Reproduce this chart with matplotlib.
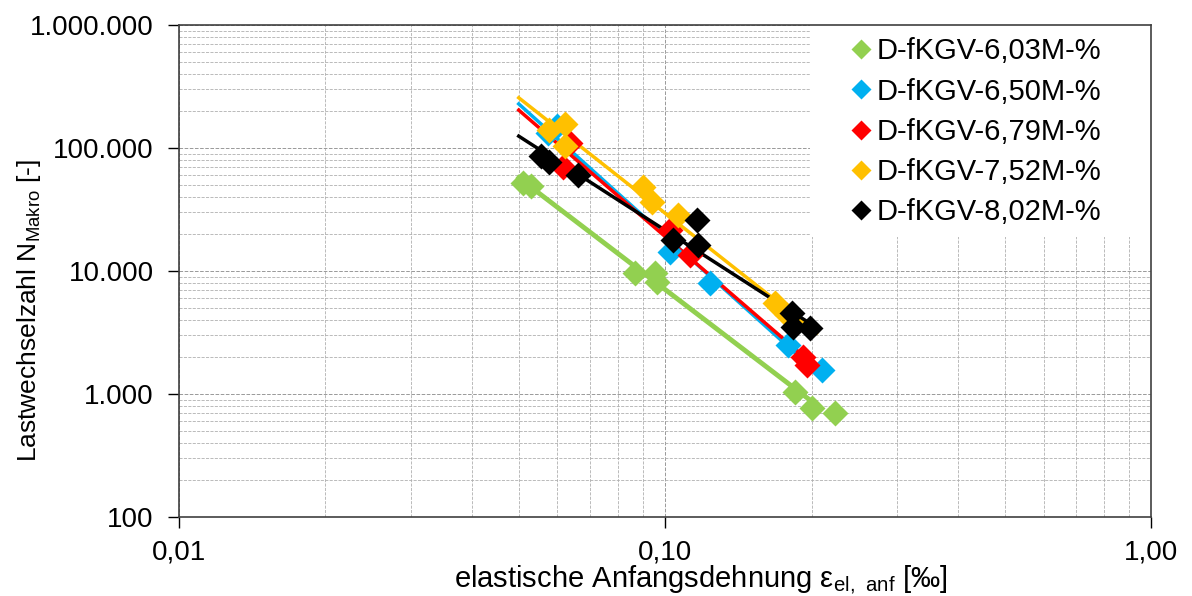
import numpy as np
import matplotlib.pyplot as plt
from matplotlib.patches import Rectangle
from matplotlib.ticker import FuncFormatter, LogLocator, NullFormatter

plt.rcParams['font.family'] = ['Liberation Sans', 'DejaVu Sans']
plt.rcParams['mathtext.fontset'] = 'custom'
plt.rcParams['mathtext.rm'] = 'Liberation Sans'

# Daten
labels = ['D-fKGV-6,03M-%', 'D-fKGV-6,50M-%', 'D-fKGV-6,79M-%',
          'D-fKGV-7,52M-%', 'D-fKGV-8,02M-%']
colors = ['#92D050', '#00B0F0', '#FF0000', '#FFC000', '#000000']

eps_603 = [0.0510, 0.0530, 0.0868, 0.0954, 0.0963, 0.185, 0.2007, 0.2238]
n_603 = [51900, 49100, 9630, 9630, 8140, 1040, 770, 700]

eps_650 = [0.0574, 0.0599, 0.1024, 0.1238, 0.179, 0.2104]
n_650 = [132400, 151000, 14270, 7990, 2500, 1570]

eps_679 = [0.0637, 0.0617, 0.1024, 0.1126, 0.1923, 0.196]
n_679 = [109800, 70050, 21540, 13490, 2000, 1720]

eps_752 = [0.0577, 0.0623, 0.0623, 0.0901, 0.0940, 0.1063, 0.1684, 0.1782]
n_752 = [140100, 156700, 103800, 48180, 36390, 28520, 5490, 4390]

eps_802 = [0.0556, 0.0577, 0.0662, 0.1164, 0.1039, 0.117, 0.1825, 0.1829, 0.1988]
n_802 = [86100, 76930, 60330, 25980, 17870, 16270, 4555, 3505, 3440]

series = [(eps_603, n_603), (eps_650, n_650), (eps_679, n_679),
          (eps_752, n_752), (eps_802, n_802)]
line_widths = [3.5, 2.5, 2.5, 2.5, 2.5]

fig = plt.figure(figsize=(11.92, 5.96), dpi=100)
ax = fig.add_axes([0.150, 0.1326, 0.816, 0.8254])
ax.set_xscale('log')
ax.set_yscale('log')
ax.set_xlim(0.01, 1.0)
ax.set_ylim(100, 1000000)

# Potenz-Trendlinien
x_fit = np.array([0.05, 0.205])
for (x, y), c, lw in zip(series, colors, line_widths):
    k, d = np.polyfit(np.log10(x), np.log10(y), 1)
    ax.plot(x_fit, 10 ** (k * np.log10(x_fit) + d), color=c, lw=lw, zorder=3)

for (x, y), c, lab in zip(series, colors, labels):
    ax.plot(x, y, 'D', color=c, ms=13, mec='none', label=lab, zorder=4)

ax.grid(True, which='major', color='#999999', ls='--', lw=0.7)
ax.grid(True, which='minor', color='#b0b0b0', ls='--', lw=0.6)
ax.xaxis.set_minor_locator(LogLocator(base=10, subs=np.arange(2, 10)))
ax.yaxis.set_minor_locator(LogLocator(base=10, subs=np.arange(2, 10)))
ax.xaxis.set_minor_formatter(NullFormatter())
ax.yaxis.set_minor_formatter(NullFormatter())
ax.tick_params(which='minor', length=0)
ax.tick_params(which='major', length=8, width=1, direction='out', labelsize=20)
ax.tick_params(axis='y', pad=10)
ax.tick_params(axis='x', pad=8)

ax.yaxis.set_major_formatter(FuncFormatter(lambda v, p: f'{int(round(v)):,}'.replace(',', '.')))
ax.xaxis.set_major_formatter(FuncFormatter(lambda v, p: f'{v:.2f}'.replace('.', ',')))

for s in ax.spines.values():
    s.set_color('#404040')
    s.set_linewidth(1.2)

ax.set_ylabel(r'Lastwechselzahl N$_{\mathrm{Makro}}$ [-]', fontsize=19)
ax.yaxis.set_label_coords(-0.14, 0.42)
ax.set_xlabel(r'elastische Anfangsdehnung ε$_{\mathrm{el,\ anf}}$ [‰]', fontsize=21)
ax.xaxis.set_label_coords(0.537, -0.093)

# weisser Legendenhintergrund
ax.add_patch(Rectangle((0.6485, 0.569), 0.3515, 0.431, transform=ax.transAxes,
                       facecolor='white', edgecolor='none', zorder=2))
ax.legend(loc='upper left', bbox_to_anchor=(0.6896, 0.975), fontsize=21,
          frameon=False, borderaxespad=0, borderpad=0, handlelength=0.8,
          handletextpad=0.14, labelspacing=0.42, markerscale=0.8)

fig.savefig('out.png', dpi=100)
